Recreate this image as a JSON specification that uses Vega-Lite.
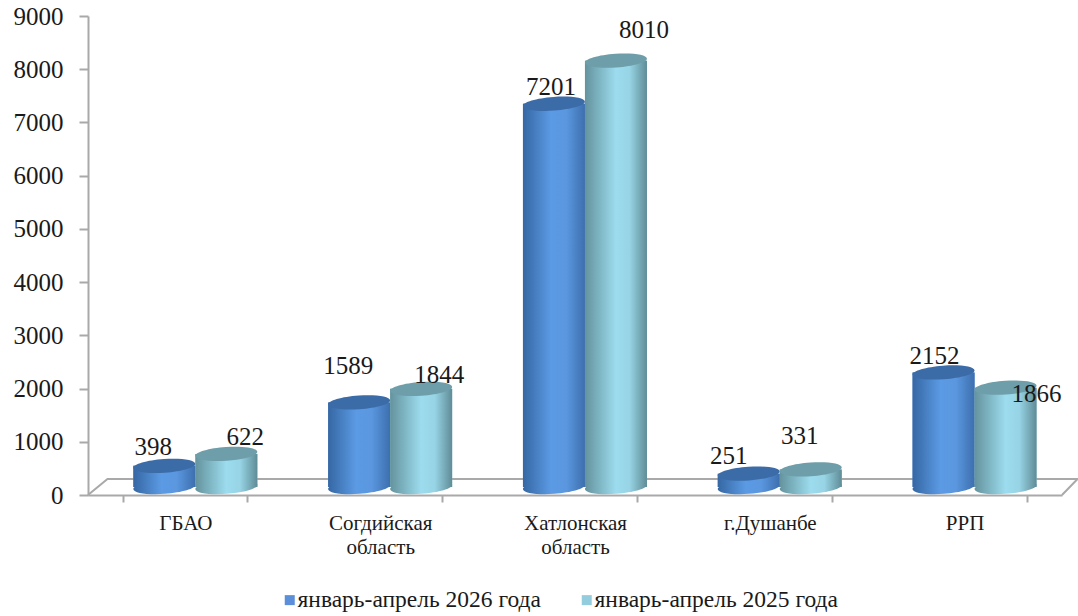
{
"$schema":"https://vega.github.io/schema/vega-lite/v6.json",
"width":974,"height":479,
"autosize":{"type":"none"},
"padding":{"left":88,"top":16,"right":16,"bottom":121},
"background":"white",
"config":{"view":{"stroke":null},"font":"Liberation Serif"},
"resolve":{"scale":{"x":"independent"},"axis":{"x":"independent"}},
"layer":[
{"data":{"values":[{"step":1,"fx":0,"fy":0},{"step":2,"fx":0.1,"fy":300},{"step":3,"fx":5.08,"fy":300},{"step":4,"fx":5,"fy":0}]},
 "mark":{"type":"line","color":"#a9a9a9","strokeWidth":2},
 "encoding":{"x":{"field":"fx","type":"quantitative","scale":{"domain":[0,5],"nice":false,"zero":false},"axis":null},
 "y":{"field":"fy","type":"quantitative","title":null,"scale":{"domain":[0,9000],"nice":false},
  "axis":{"values":[0,1000,2000,3000,4000,5000,6000,7000,8000,9000],"grid":false,"format":"d","domainColor":"#a9a9a9","domainWidth":2,"tickColor":"#a9a9a9","tickWidth":2,"tickSize":9,"labelFontSize":25,"labelColor":"#1a1a1a","labelPadding":16,"labelFont":"Liberation Serif"}},"order":{"field":"step","type":"quantitative"}}},
{"data":{"values":[
{"region":"ГБАО","series":"январь-апрель 2026 года","value":398},
{"region":"ГБАО","series":"январь-апрель 2025 года","value":622},
{"region":"Согдийская область","series":"январь-апрель 2026 года","value":1589},
{"region":"Согдийская область","series":"январь-апрель 2025 года","value":1844},
{"region":"Хатлонская область","series":"январь-апрель 2026 года","value":7201},
{"region":"Хатлонская область","series":"январь-апрель 2025 года","value":8010},
{"region":"г.Душанбе","series":"январь-апрель 2026 года","value":251},
{"region":"г.Душанбе","series":"январь-апрель 2025 года","value":331},
{"region":"РРП","series":"январь-апрель 2026 года","value":2152},
{"region":"РРП","series":"январь-апрель 2025 года","value":1866}
]},
"encoding":{
 "x":{"field":"region","type":"nominal","sort":null,"title":null,
  "scale":{"domain":["ГБАО","Согдийская область","Хатлонская область","г.Душанбе","РРП"],"paddingInner":0.363,"paddingOuter":0.1815},
  "axis":{"tickBand":"extent","labelAngle":0,"domainColor":"#a9a9a9","domainWidth":2,"tickColor":"#a9a9a9","tickWidth":2,"tickSize":7,"labelFontSize":21,"labelColor":"#1a1a1a","labelPadding":10,"labelLineHeight":24,"labelExpr":"split(datum.label,' ')","labelFont":"Liberation Serif"}},
 "xOffset":{"field":"series","type":"nominal","sort":null,"scale":{"domain":["январь-апрель 2026 года","январь-апрель 2025 года"],"range":[10,134],"padding":0,"paddingInner":0,"paddingOuter":0}},
 "y":{"field":"value","type":"quantitative","title":null,"scale":{"domain":[0,9000],"nice":false}}
},
"layer":[
{"mark":{"type":"bar","yOffset":-8,"y2Offset":-8},
 "encoding":{"color":{"field":"series","type":"nominal","sort":null,
  "scale":{"domain":["январь-апрель 2026 года","январь-апрель 2025 года"],"range":["#5b8fd9","#93cddd"]},
  "legend":{"title":null,"orient":"none","legendX":190,"legendY":572,"direction":"horizontal","symbolType":"square","symbolSize":100,"symbolStrokeWidth":0,"symbolOpacity":1,"labelFontSize":23.5,"labelLimit":0,"labelColor":"#1a1a1a","labelFont":"Liberation Serif","columnPadding":34,"labelOffset":-4}}}},
{"transform":[{"filter":"datum.series=='январь-апрель 2026 года'"}],
 "mark":{"type":"point","filled":true,"size":3844,"opacity":1,"yOffset":-8,"shape":"M-1,0.07 A1,0.22 -4 1 1 1,-0.07 A1,0.22 -4 1 1 -1,0.07 Z",
  "fill":{"gradient":"linear","x1":0,"x2":1,"y1":0,"y2":0,"stops":[{"offset":0,"color":"#3567a3"},{"offset":0.45,"color":"#5b9ae4"},{"offset":0.7,"color":"#5a97df"},{"offset":1,"color":"#3d6fae"}]}},
 "encoding":{"y":{"datum":0,"type":"quantitative"}}},
{"transform":[{"filter":"datum.series=='январь-апрель 2026 года'"}],
 "mark":{"type":"bar","yOffset":-8,"y2Offset":-8,
  "fill":{"gradient":"linear","x1":0,"x2":1,"y1":0,"y2":0,"stops":[{"offset":0,"color":"#3567a3"},{"offset":0.45,"color":"#5b9ae4"},{"offset":0.7,"color":"#5a97df"},{"offset":1,"color":"#3d6fae"}]}}},
{"transform":[{"filter":"datum.series=='январь-апрель 2026 года'"}],
 "mark":{"type":"point","filled":true,"size":3844,"opacity":1,"color":"#3c6ca8","yOffset":-8,"shape":"M-1,0.07 A1,0.22 -4 1 1 1,-0.07 A1,0.22 -4 1 1 -1,0.07 Z"}},
{"transform":[{"filter":"datum.series=='январь-апрель 2025 года'"}],
 "mark":{"type":"point","filled":true,"size":3844,"opacity":1,"yOffset":-8,"shape":"M-1,0.07 A1,0.22 -4 1 1 1,-0.07 A1,0.22 -4 1 1 -1,0.07 Z",
  "fill":{"gradient":"linear","x1":0,"x2":1,"y1":0,"y2":0,"stops":[{"offset":0,"color":"#64939d"},{"offset":0.5,"color":"#9cdcee"},{"offset":0.72,"color":"#97d4e5"},{"offset":1,"color":"#5f8c96"}]}},
 "encoding":{"y":{"datum":0,"type":"quantitative"}}},
{"transform":[{"filter":"datum.series=='январь-апрель 2025 года'"}],
 "mark":{"type":"bar","yOffset":-8,"y2Offset":-8,
  "fill":{"gradient":"linear","x1":0,"x2":1,"y1":0,"y2":0,"stops":[{"offset":0,"color":"#64939d"},{"offset":0.5,"color":"#9cdcee"},{"offset":0.72,"color":"#97d4e5"},{"offset":1,"color":"#5f8c96"}]}}},
{"transform":[{"filter":"datum.series=='январь-апрель 2025 года'"}],
 "mark":{"type":"point","filled":true,"size":3844,"opacity":1,"color":"#6e9ea9","yOffset":-8,"shape":"M-1,0.07 A1,0.22 -4 1 1 1,-0.07 A1,0.22 -4 1 1 -1,0.07 Z"}},
{"transform":[{"filter":"datum.value==398"}],"mark":{"type":"text","fontSize":25,"color":"#1a1a1a","dx":-11,"dy":-27},"encoding":{"text":{"field":"value","type":"quantitative","format":"d"}}},
{"transform":[{"filter":"datum.value==622"}],"mark":{"type":"text","fontSize":25,"color":"#1a1a1a","dx":19,"dy":-25},"encoding":{"text":{"field":"value","type":"quantitative","format":"d"}}},
{"transform":[{"filter":"datum.value==1589"}],"mark":{"type":"text","fontSize":25,"color":"#1a1a1a","dx":-11,"dy":-44},"encoding":{"text":{"field":"value","type":"quantitative","format":"d"}}},
{"transform":[{"filter":"datum.value==1844"}],"mark":{"type":"text","fontSize":25,"color":"#1a1a1a","dx":18,"dy":-22},"encoding":{"text":{"field":"value","type":"quantitative","format":"d"}}},
{"transform":[{"filter":"datum.value==7201"}],"mark":{"type":"text","fontSize":25,"color":"#1a1a1a","dx":-3,"dy":-25},"encoding":{"text":{"field":"value","type":"quantitative","format":"d"}}},
{"transform":[{"filter":"datum.value==8010"}],"mark":{"type":"text","fontSize":25,"color":"#1a1a1a","dx":28,"dy":-39},"encoding":{"text":{"field":"value","type":"quantitative","format":"d"}}},
{"transform":[{"filter":"datum.value==251"}],"mark":{"type":"text","fontSize":25,"color":"#1a1a1a","dx":-20,"dy":-26},"encoding":{"text":{"field":"value","type":"quantitative","format":"d"}}},
{"transform":[{"filter":"datum.value==331"}],"mark":{"type":"text","fontSize":25,"color":"#1a1a1a","dx":-11,"dy":-41},"encoding":{"text":{"field":"value","type":"quantitative","format":"d"}}},
{"transform":[{"filter":"datum.value==2152"}],"mark":{"type":"text","fontSize":25,"color":"#1a1a1a","dx":-9,"dy":-24},"encoding":{"text":{"field":"value","type":"quantitative","format":"d"}}},
{"transform":[{"filter":"datum.value==1866"}],"mark":{"type":"text","fontSize":25,"color":"#1a1a1a","dx":31,"dy":-2},"encoding":{"text":{"field":"value","type":"quantitative","format":"d"}}}
]}
]}
